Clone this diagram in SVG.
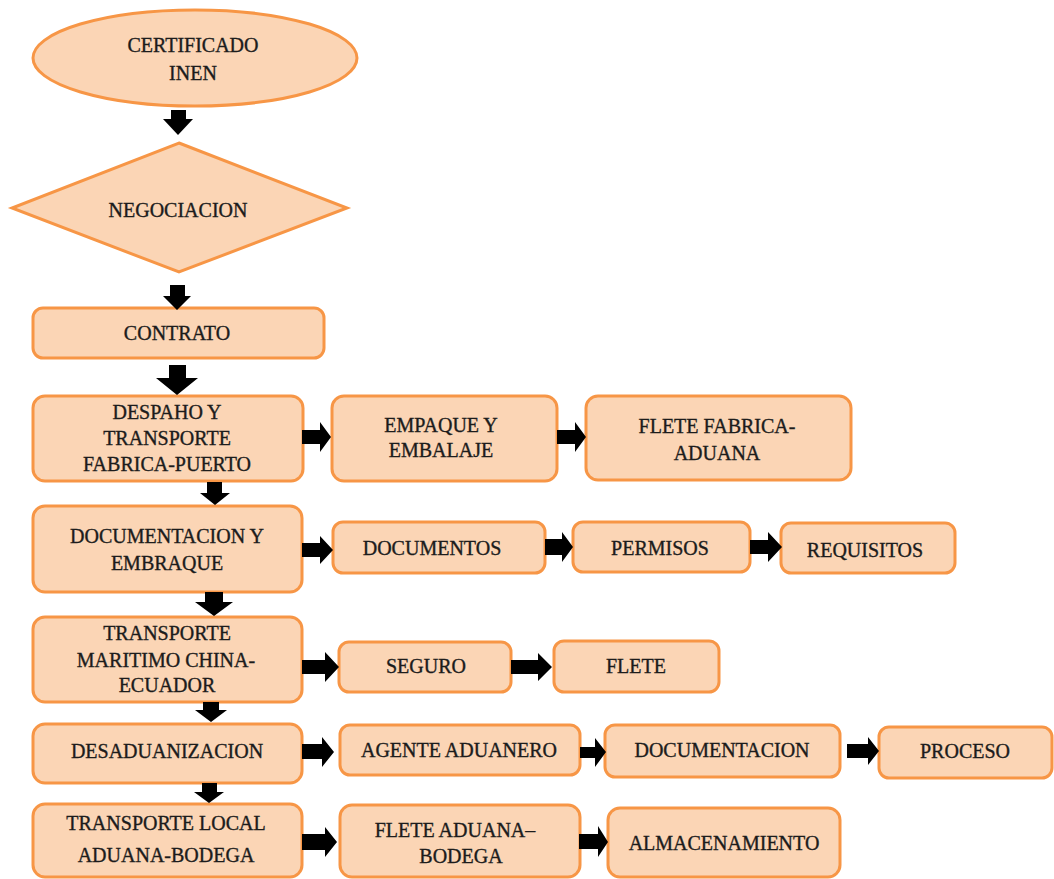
<svg xmlns="http://www.w3.org/2000/svg" width="1054" height="879" viewBox="0 0 1054 879">
<style>
.n{fill:#FBD5B5;stroke:#F79646;stroke-width:3}
.t{font-family:"Liberation Serif","Times New Roman",serif;font-size:20px;fill:#1c1c1c;stroke:#1c1c1c;stroke-width:0.35;text-anchor:middle}
.a{fill:#000}
</style>
<rect width="1054" height="879" fill="#fff"/>
<g id="certificado"><ellipse class="n" cx="195" cy="58" rx="162" ry="48"/><text class="t" x="193" y="52">CERTIFICADO</text><text class="t" x="193" y="80">INEN</text></g>
<g id="negociacion"><polygon class="n" points="179,143 347,208 179,272 12,208"/><text class="t" x="178" y="217">NEGOCIACION</text></g>
<g id="contrato"><rect class="n" x="33" y="308" width="291" height="50" rx="10"/><text class="t" x="177" y="340">CONTRATO</text></g>
<g id="despacho"><rect class="n" x="33" y="396" width="270" height="85" rx="12"/><text class="t" x="167" y="419">DESPAHO Y</text><text class="t" x="167" y="445">TRANSPORTE</text><text class="t" x="167" y="471">FABRICA-PUERTO</text></g>
<g id="empaque"><rect class="n" x="332" y="396" width="225" height="85" rx="12"/><text class="t" x="441" y="432">EMPAQUE Y</text><text class="t" x="441" y="457">EMBALAJE</text></g>
<g id="flete-fabrica"><rect class="n" x="586" y="396" width="265" height="84" rx="12"/><text class="t" x="717" y="433">FLETE FABRICA-</text><text class="t" x="717" y="460">ADUANA</text></g>
<g id="documentacion-embarque"><rect class="n" x="33" y="506" width="269" height="86" rx="12"/><text class="t" x="167" y="543">DOCUMENTACION Y</text><text class="t" x="167" y="570">EMBRAQUE</text></g>
<g id="documentos"><rect class="n" x="333" y="522" width="212" height="51" rx="10"/><text class="t" x="432" y="555">DOCUMENTOS</text></g>
<g id="permisos"><rect class="n" x="573" y="522" width="177" height="50" rx="10"/><text class="t" x="660" y="555">PERMISOS</text></g>
<g id="requisitos"><rect class="n" x="781" y="523" width="174" height="50" rx="10"/><text class="t" x="865" y="557">REQUISITOS</text></g>
<g id="transporte-maritimo"><rect class="n" x="33" y="617" width="269" height="85" rx="12"/><text class="t" x="167" y="640">TRANSPORTE</text><text class="t" x="166" y="667">MARITIMO  CHINA-</text><text class="t" x="167" y="692">ECUADOR</text></g>
<g id="seguro"><rect class="n" x="339" y="642" width="172" height="50" rx="10"/><text class="t" x="426" y="673">SEGURO</text></g>
<g id="flete"><rect class="n" x="554" y="641" width="165" height="51" rx="10"/><text class="t" x="636" y="673">FLETE</text></g>
<g id="desaduanizacion"><rect class="n" x="33" y="724" width="269" height="59" rx="12"/><text class="t" x="167" y="758">DESADUANIZACION</text></g>
<g id="agente"><rect class="n" x="340" y="725" width="240" height="50" rx="10"/><text class="t" x="459" y="757">AGENTE ADUANERO</text></g>
<g id="documentacion"><rect class="n" x="605" y="725" width="235" height="52" rx="10"/><text class="t" x="722" y="757">DOCUMENTACION</text></g>
<g id="proceso"><rect class="n" x="879" y="727" width="173" height="51" rx="10"/><text class="t" x="965" y="758">PROCESO</text></g>
<g id="transporte-local"><rect class="n" x="33" y="804" width="269" height="73" rx="12"/><text class="t" x="166" y="830">TRANSPORTE  LOCAL</text><text class="t" x="166" y="862">ADUANA-BODEGA</text></g>
<g id="flete-aduana"><rect class="n" x="340" y="805" width="240" height="72" rx="12"/><text class="t" x="455" y="837">FLETE ADUANA–</text><text class="t" x="461" y="863">BODEGA</text></g>
<g id="almacenamiento"><rect class="n" x="608" y="808" width="232" height="69" rx="12"/><text class="t" x="724" y="850">ALMACENAMIENTO</text></g>
<g id="connectors" class="a">
<polygon points="171,110 186,110 186,119 193,119 178,135 163,119 171,119"/>
<polygon points="170,285 185,285 185,296 191,296 177,310 163,296 170,296"/>
<polygon points="169,365 186,365 186,378 198,378 177,395 156,378 169,378"/>
<polygon points="207,482 222,482 222,493 230,493 215,505 200,493 207,493"/>
<polygon points="205,592 223,592 223,602 233,602 214,616 195,602 205,602"/>
<polygon points="203,702 219,702 219,710 227,710 211,722 195,710 203,710"/>
<polygon points="202,783 217,783 217,792 224,792 209,803 194,792 202,792"/>
<polygon points="302,430 320,430 320,422 331,437 320,452 320,444 302,444"/>
<polygon points="557,430 575,430 575,422 586,437 575,452 575,444 557,444"/>
<polygon points="302,543 320,543 320,536 333,550 320,564 320,557 302,557"/>
<polygon points="545,539 562,539 562,532 573,547 562,562 562,555 545,555"/>
<polygon points="750,540 768,540 768,532 782,547 768,562 768,554 750,554"/>
<polygon points="302,660 325,660 325,652 339,667 325,682 325,674 302,674"/>
<polygon points="511,660 538,660 538,653 552,667 538,681 538,674 511,674"/>
<polygon points="302,744 322,744 322,737 334,752 322,767 322,759 302,759"/>
<polygon points="580,747 595,747 595,738 606,752 595,767 595,758 580,758"/>
<polygon points="847,744 868,744 868,737 879,751 868,765 868,758 847,758"/>
<polygon points="302,834 325,834 325,827 337,842 325,857 325,850 302,850"/>
<polygon points="579,834 598,834 598,826 608,842 598,857 598,849 579,849"/>
</g>
</svg>
